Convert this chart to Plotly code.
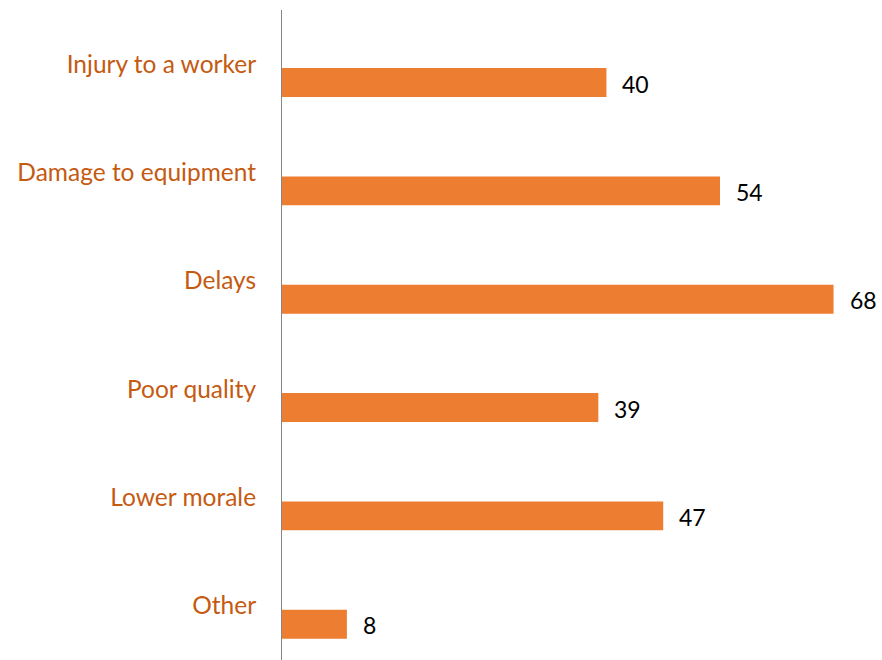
import plotly.graph_objects as go

categories = ["Injury to a worker", "Damage to equipment", "Delays", "Poor quality", "Lower morale", "Other"]
values = [40, 54, 68, 39, 47, 8]

positions = list(range(len(categories)))
bar_offset = 0.036
bar_width = 0.267

fig = go.Figure()
fig.add_trace(go.Bar(
    x=values, y=positions, orientation="h",
    offset=bar_offset, width=bar_width,
    marker=dict(color="#ED7D31", line=dict(width=0)),
    hoverinfo="x",
))

for p, v in zip(positions, values):
    fig.add_annotation(
        x=v, y=p + bar_offset + bar_width / 2, xref="x", yref="y",
        text=str(v), showarrow=False, xanchor="left", yanchor="middle",
        xshift=14, yshift=-1, font=dict(family="Lato, Carlito, sans-serif", size=23, color="#000000"),
    )

fig.update_layout(
    width=882, height=660,
    margin=dict(l=282, r=15.5, t=10, b=0),
    plot_bgcolor="white", paper_bgcolor="white",
    showlegend=False,
    font=dict(family="Lato, Carlito, sans-serif"),
)
fig.update_xaxes(range=[0, 72], visible=False, showgrid=False, zeroline=False)
fig.update_yaxes(
    range=[len(categories) - 0.5, -0.5],
    tickmode="array", tickvals=positions, ticktext=categories,
    ticks="", showgrid=False, zeroline=False,
    showline=True, linecolor="#868686", linewidth=1,
    tickfont=dict(family="Lato, Carlito, sans-serif", size=24.5, color="#C55A11"),
    ticklabelstandoff=20,
)

fig.write_html("out.html")
